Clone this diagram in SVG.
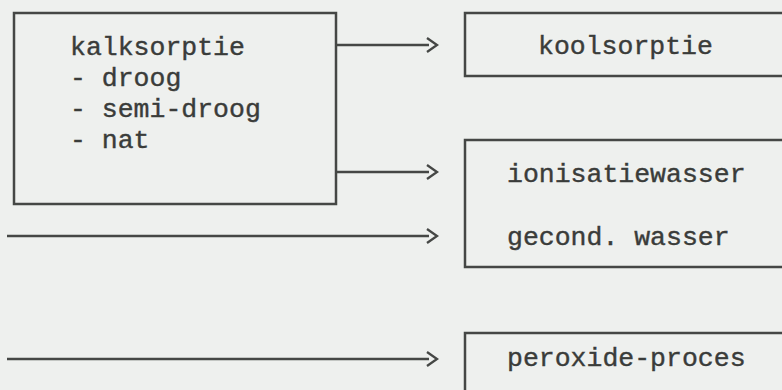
<svg xmlns="http://www.w3.org/2000/svg" width="782" height="390" viewBox="0 0 782 390">
<style>
.bg{fill:#eef0ee}
.box{fill:none;stroke:#454745;stroke-width:2.5}
.ln{fill:none;stroke:#454745;stroke-width:2.5}
.hd{fill:none;stroke:#454745;stroke-width:2.3;stroke-linejoin:miter}
text{font-family:"Courier New",Courier,"Nimbus Mono PS","FreeMono","Liberation Mono",monospace;font-size:26.5px;fill:#3a3c3a;stroke:#3a3c3a;stroke-width:0.4}
</style>
<rect class="bg" x="0" y="0" width="782" height="390"/>
<g id="kalksorptie">
<rect class="box" x="14" y="13" width="322" height="191"/>
<text x="70" y="55">kalksorptie</text>
<text x="70" y="86">- droog</text>
<text x="70" y="117">- semi-droog</text>
<text x="70" y="148">- nat</text>
</g>
<g id="koolsorptie">
<path class="box" d="M790,13 H465 V76 H790"/>
<text x="538" y="54">koolsorptie</text>
</g>
<g id="wasser">
<path class="box" d="M790,140 H465 V267 H790"/>
<text x="507" y="182">ionisatiewasser</text>
<text x="507" y="245">gecond. wasser</text>
</g>
<g id="peroxide">
<path class="box" d="M790,333 H465 V400"/>
<text x="507" y="366">peroxide-proces</text>
</g>
<g id="connectors">
<line class="ln" x1="337" y1="45" x2="429" y2="45"/>
<polyline class="hd" points="427,38 437,45 427,52"/>
<line class="ln" x1="337" y1="172" x2="429" y2="172"/>
<polyline class="hd" points="427,165 437,172 427,179"/>
<line class="ln" x1="7" y1="236" x2="429" y2="236"/>
<polyline class="hd" points="427,229 437,236 427,243"/>
<line class="ln" x1="7" y1="359" x2="429" y2="359"/>
<polyline class="hd" points="427,352 437,359 427,366"/>
</g>
</svg>
